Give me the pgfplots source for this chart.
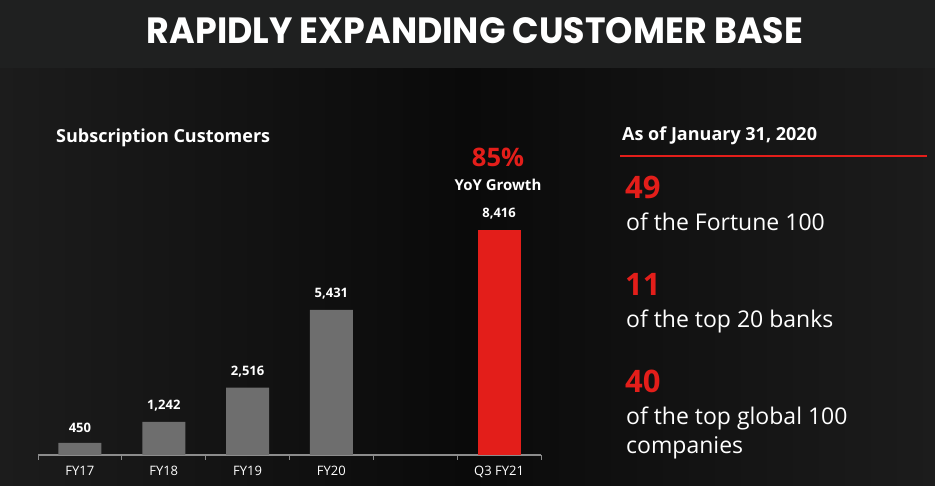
\documentclass[border=0pt]{standalone}
\usepackage{pgfplots}
\pgfplotsset{compat=1.18}
\usepackage{graphicx}
\usepackage{fontspec}
\setmainfont{Open Sans}
\newfontfamily\titlefont{Poppins}
\definecolor{bandbg}{HTML}{1F2020}
\definecolor{bodyedge}{HTML}{1C1C1C}
\definecolor{bodymid}{HTML}{0A0A0A}
\definecolor{bargray}{HTML}{6E6E6E}
\definecolor{barred}{HTML}{E31E1A}
\definecolor{axisgray}{HTML}{8C8C8C}
\begin{document}
\begin{tikzpicture}[x=1pt,y=1pt]
% background
\fill[bandbg] (0,0) rectangle (935,486);
\shade[left color=bodyedge, right color=bodyedge, middle color=bodymid] (0,0) rectangle (935,418);
\fill[bandbg] (0,418) rectangle (935,486);
\path[use as bounding box] (0,0) rectangle (935,486);
% title
\node[anchor=base, inner sep=0pt, white] at (475,442) {\resizebox{656pt}{26pt}{\titlefont\bfseries RAPIDLY EXPANDING CUSTOMER BASE}};
% left heading
\node[anchor=base west, inner sep=0pt, white, font=\bfseries\fontsize{18}{18}\selectfont] at (56,343) {Subscription Customers};
% chart
\begin{axis}[
  at={(38pt,31pt)}, anchor=south west,
  scale only axis, width=503pt, height=267.3pt,
  xmin=-0.5, xmax=5.5, ymin=0, ymax=10000,
  axis x line*=bottom, axis y line=none,
  axis line style={axisgray, line width=1.2pt},
  xtick={0,1,2,3,5},
  xticklabels={FY17,FY18,FY19,FY20,Q3 FY21},
  major tick length=0pt,
  minor xtick={-0.5,0.5,1.5,2.5,3.5,4.5,5.5},
  minor tick length=5pt,
  tick align=outside,
  minor tick style={axisgray, line width=1pt},
  xticklabel style={white, font=\fontsize{13}{13}\selectfont, yshift=-8pt},
  ybar, bar width=43pt, bar shift=0pt,
  point meta=explicit symbolic,
  nodes near coords,
  every node near coord/.append style={white, anchor=south, font=\bfseries\fontsize{13}{13}\selectfont, yshift=7pt},
  clip=false,
]
\addplot[fill=bargray, draw=none] table[meta=lab] {
x y lab
0 450 450
1 1242 1,242
2 2516 2,516
3 5431 5,431
};
\addplot[fill=barred, draw=none] table[meta=lab] {
x y lab
5 8416 8,416
};
\end{axis}
% growth callout
\node[anchor=base, inner sep=0pt, barred, font=\bfseries\fontsize{25.5}{25.5}\selectfont] at (498,319) {85\%};
\node[anchor=base, inner sep=0pt, white, font=\bfseries\fontsize{15}{15}\selectfont] at (498,295) {YoY Growth};
% right panel
\node[anchor=base west, inner sep=0pt, white, font=\bfseries\fontsize{18}{18}\selectfont] at (622,345) {As of January 31, 2020};
\draw[draw=barred, line width=1.5pt] (620,330) -- (927,330);
\node[anchor=base west, inner sep=0pt, barred, font=\bfseries\fontsize{31}{31}\selectfont] at (625,287) {49};
\node[anchor=base west, inner sep=0pt, white, font=\fontsize{23}{23}\selectfont] at (626,255) {of the Fortune 100};
\node[anchor=base west, inner sep=0pt, barred, font=\bfseries\fontsize{31}{31}\selectfont] at (625,190) {11};
\node[anchor=base west, inner sep=0pt, white, font=\fontsize{23}{23}\selectfont] at (626,158) {of the top 20 banks};
\node[anchor=base west, inner sep=0pt, barred, font=\bfseries\fontsize{31}{31}\selectfont] at (625,93) {40};
\node[anchor=base west, inner sep=0pt, white, font=\fontsize{23}{23}\selectfont] at (626,61) {of the top global 100};
\node[anchor=base west, inner sep=0pt, white, font=\fontsize{23}{23}\selectfont] at (626,32) {companies};
\end{tikzpicture}
\end{document}
